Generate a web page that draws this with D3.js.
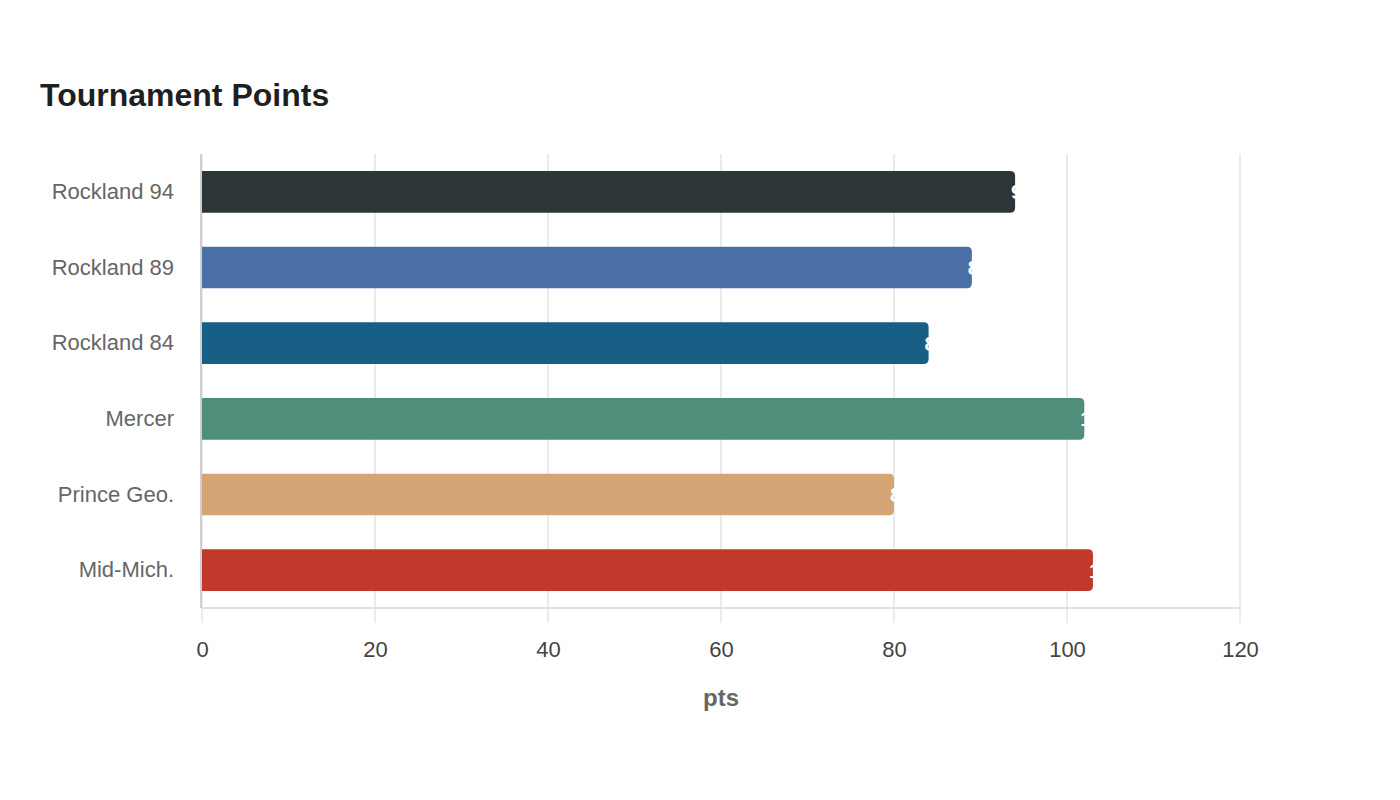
<!DOCTYPE html>
<html>
<head>
<meta charset="utf-8">
<script src="https://cdn.jsdelivr.net/npm/d3@7"></script>
<style>
  body { margin: 0; background: #ffffff; }
  svg { font-family: "Liberation Sans", Arial, sans-serif; }
</style>
</head>
<body>
<div id="graph"></div>
<script>
// The data...
var teams   = [ 'Rockland 94', 'Rockland 89', 'Rockland 84', 'Mercer', 'Prince Geo.', 'Mid-Mich.' ];
var points  = [ 94, 89, 84, 102, 80, 103 ];
var colours = [ '#2d3538', '#4a6fa5', '#185f86', '#4e8e7b', '#d4a574', '#c0392b' ];
var xTicks  = [ 0, 20, 40, 60, 80, 100, 120 ];

var width = 1400, height = 800;
var margin = { top: 154, right: 160, bottom: 192, left: 202 };
var innerW = width - margin.left - margin.right;
var innerH = height - margin.top - margin.bottom;

var svg = d3.select ('#graph').append ('svg')
            .attr ('width', width)
            .attr ('height', height);

svg.append ('text')
   .attr ('x', 40)
   .attr ('y', 106)
   .text ('Tournament Points')
   .attr ('font-size', '32px')
   .attr ('font-weight', 'bold')
   .attr ('fill', '#1f1f1f');

var g = svg.append ('g')
           .attr ('transform', 'translate(' + margin.left + ',' + margin.top + ')');

var xScale = d3.scaleLinear ().domain ([ 0, 120 ]).range ([ 0, innerW ]);
var yScale = d3.scaleBand ().domain (teams).range ([ 0, innerH ]).paddingInner (0.45).paddingOuter (0.225);

// grid lines
g.selectAll ('.grid')
 .data (xTicks)
 .enter ()
 .append ('line')
 .attr ('x1', function (d) { return xScale(d); })
 .attr ('x2', function (d) { return xScale(d); })
 .attr ('y1', 0)
 .attr ('y2', innerH + 15)
 .attr ('stroke', '#ebebeb')
 .attr ('stroke-width', 2);

// x axis line
g.append ('line')
 .attr ('x1', 0).attr ('x2', innerW)
 .attr ('y1', innerH).attr ('y2', innerH)
 .attr ('stroke', '#e0e0e0')
 .attr ('stroke-width', 2);

// y axis line
g.append ('line')
 .attr ('x1', -1).attr ('x2', -1)
 .attr ('y1', 0).attr ('y2', innerH)
 .attr ('stroke', '#cfcfcf')
 .attr ('stroke-width', 2);

// x axis tick labels
var xAxis = d3.axisBottom (xScale).tickValues (xTicks).tickSize (0).tickPadding (33);
var xg = g.append ('g').attr ('transform', 'translate(0,' + innerH + ')').call (xAxis);
xg.select ('.domain').remove ();
xg.selectAll ('text')
  .attr ('font-size', '22px')
  .attr ('font-family', '"Liberation Sans", Arial, sans-serif')
  .attr ('fill', '#444444');

// y axis labels
var yAxis = d3.axisLeft (yScale).tickSize (0).tickPadding (28);
var yg = g.append ('g').call (yAxis);
yg.select ('.domain').remove ();
yg.selectAll ('text')
  .attr ('font-size', '22px')
  .attr ('font-family', '"Liberation Sans", Arial, sans-serif')
  .attr ('fill', '#666666');

// axis title
g.append ('text')
 .attr ('x', innerW / 2)
 .attr ('y', innerH + 98)
 .attr ('text-anchor', 'middle')
 .text ('pts')
 .attr ('font-size', '24px')
 .attr ('font-weight', 'bold')
 .attr ('fill', '#666666');

// bars, rounded on the right end
var r = 5;
function barPath (d, i)
{
    var x0 = xScale(0), x1 = xScale(d);
    var y0 = yScale(teams[i]), h = yScale.bandwidth ();
    return 'M' + x0 + ',' + y0 +
           'H' + (x1 - r) +
           'Q' + x1 + ',' + y0 + ' ' + x1 + ',' + (y0 + r) +
           'V' + (y0 + h - r) +
           'Q' + x1 + ',' + (y0 + h) + ' ' + (x1 - r) + ',' + (y0 + h) +
           'H' + x0 + 'Z';
}

g.selectAll ('.bar')
 .data (points)
 .enter ()
 .append ('path')
 .attr ('class', 'bar')
 .attr ('d', barPath)
 .attr ('fill', function (d, i) { return colours[i]; });

// value labels (white, mostly falling outside the bar)
g.selectAll ('.val')
 .data (points)
 .enter ()
 .append ('text')
 .attr ('x', function (d) { return xScale(d) - 4; })
 .attr ('y', function (d, i) { return yScale(teams[i]) + yScale.bandwidth () / 2; })
 .attr ('dy', '0.35em')
 .text (function (d) { return d; })
 .attr ('font-size', '21px')
 .attr ('font-weight', 'bold')
 .attr ('fill', '#ffffff');
</script>
</body>
</html>
